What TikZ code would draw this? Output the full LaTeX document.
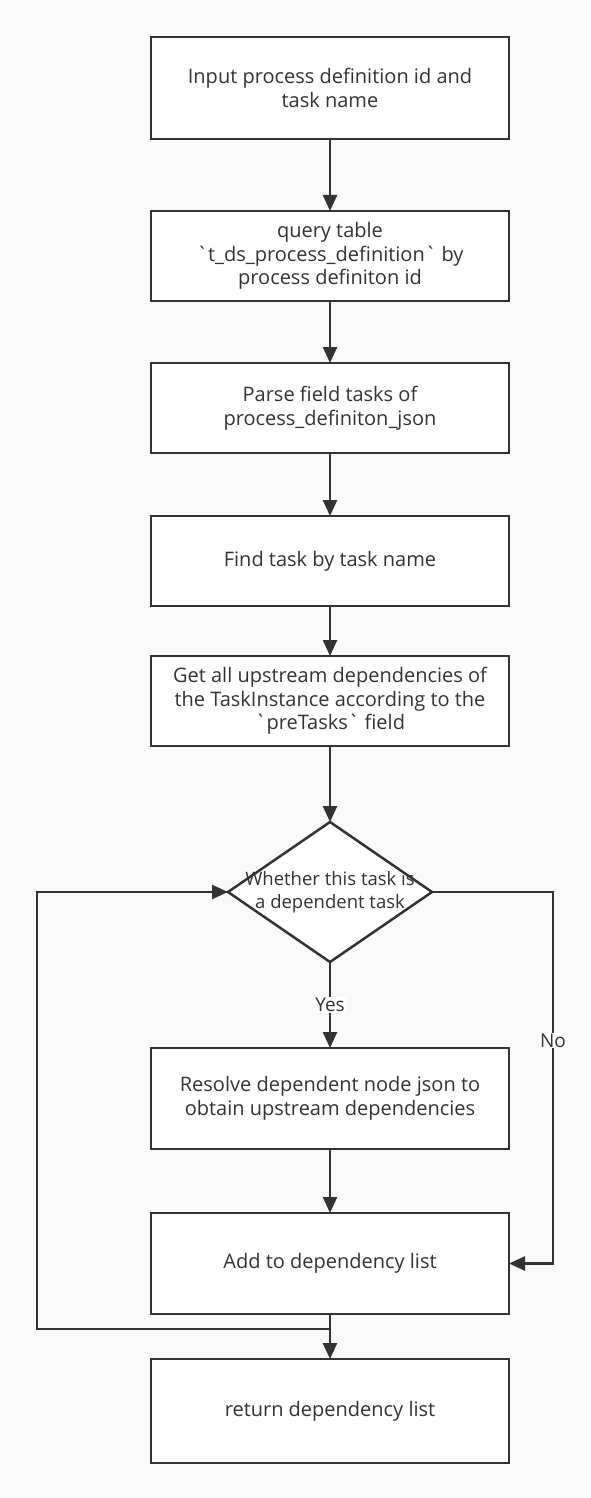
\documentclass[tikz,border=0pt]{standalone}
\usepackage{fontspec}
\setmainfont{Open Sans}
\usetikzlibrary{positioning,shapes.geometric,arrows.meta}
\definecolor{ink}{HTML}{333333}
\definecolor{paper}{HTML}{F9F9F9}
\begin{document}
\begin{tikzpicture}[x=1pt,y=1pt,
        box/.style={draw=ink,fill=white,line width=2.5pt,outer sep=0pt,
            minimum width=358pt,minimum height=90pt,align=center,text=ink,
            font=\fontsize{20}{23.5}\selectfont},
        decision/.style={diamond,draw=ink,fill=white,line width=2.5pt,
            outer sep=0pt,inner sep=0pt,minimum width=204pt,minimum height=140pt},
        flow/.style={draw=ink,line width=2.5pt,-{Triangle[length=16pt,width=14pt]}},
        tag/.style={fill=white,text=ink,inner sep=1pt,
            font=\fontsize{19}{22}\selectfont}
    ]
\fill[paper] (0,0) rectangle (591,-1498);
\useasboundingbox (0,0) rectangle (591,-1498);
\node[box,minimum height=102pt] (input) at (330,-88)
    {Input process definition id and\\task name};
\node[box,below=72pt of input] (query)
    {query table\\\textasciigrave t\_ds\_process\_definition\textasciigrave\ by\\process definiton id};
\node[box,below=62pt of query] (parse)
    {Parse field tasks of\\process\_definiton\_json};
\node[box,below=63pt of parse] (find) {Find task by task name};
\node[box,below=50pt of find] (upstream)
    {Get all upstream dependencies of\\the TaskInstance according to the\\\textasciigrave preTasks\textasciigrave\ field};
\node[decision,below=76pt of upstream,
    label={[align=center,text=ink,font=\fontsize{18.5}{23}\selectfont]center:Whether this task is\\a dependent task}]
    (check) {};
\node[box,minimum height=101pt,below=86pt of check] (resolve)
    {Resolve dependent node json to\\obtain upstream dependencies};
\node[box,minimum height=101pt,below=64pt of resolve] (add) {Add to dependency list};
\node[box,minimum height=104pt,below=45pt of add] (ret) {return dependency list};
\coordinate (noturn) at ([xshift=121pt]check.east);
\coordinate (loop) at ([yshift=-15pt]add.south);
\draw[flow] (input) -- (query);
\draw[flow] (query) -- (parse);
\draw[flow] (parse) -- (find);
\draw[flow] (find) -- (upstream);
\draw[flow] (upstream) -- (check);
\draw[flow] (check) -- node[tag] {Yes} (resolve);
\draw[flow] (resolve) -- (add);
\draw[flow] (add) -- (ret);
\draw[flow] (check.east) -- (noturn) |- node[tag,pos=0.2] {No} (add.east);
\draw[flow] (loop) -- ++(-293,0) |- (check.west);
\end{tikzpicture}
\end{document}
